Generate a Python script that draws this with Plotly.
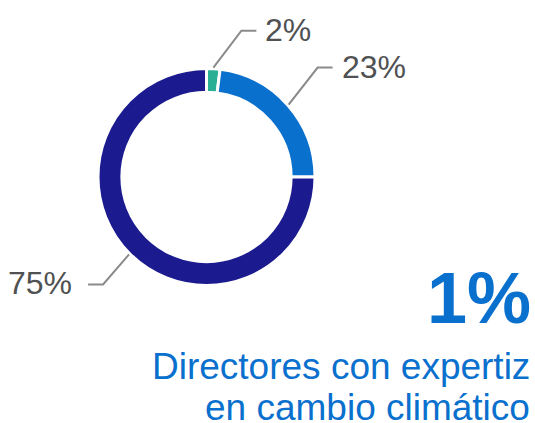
import math
import plotly.graph_objects as go

# ---- data ----
categories = ["Sí", "Parcial", "No"]
values = [2, 23, 75]
value_labels = ["2%", "23%", "75%"]
headline_value = "1%"
caption_lines = ["Directores con expertiz", "en cambio climático"]

# ---- style ----
W, H = 535, 423
colors = ["#2AAE94", "#0A70CE", "#1B1B8F"]
text_gray = "#4F5152"
line_gray = "#8A8A8A"
blue_text = "#0A70CE"
font_family = "Liberation Sans, Arial, sans-serif"

cx, cy, r_out = 206.5, 177.0, 108.5  # pixel geometry of the donut
hole = 0.78
legs = [(28, -37), (29, -37), (-26, 30)]  # diagonal leader leg (px)
h_leg = 15
text_gaps = [7, 7, 14]


def px(x):
    return x / W


def py(y):
    return 1 - y / H


fig = go.Figure(
    go.Pie(
        labels=categories,
        values=values,
        hole=hole,
        sort=False,
        direction="clockwise",
        rotation=0,
        marker=dict(colors=colors, line=dict(color="white", width=3)),
        textinfo="none",
        hoverinfo="label+percent",
        domain=dict(x=[px(cx - r_out), px(cx + r_out)],
                    y=[py(cy + r_out), py(cy - r_out)]),
        showlegend=False,
    )
)

shapes = []
annotations = []
total = sum(values)
cum = 0
for v, lab, (dx, dy), gap in zip(values, value_labels, legs, text_gaps):
    mid = (cum + v / 2) / total * 2 * math.pi
    cum += v
    sx = cx + (r_out + 1) * math.sin(mid)
    sy = cy - (r_out + 1) * math.cos(mid)
    ex, ey = sx + dx, sy + dy
    side = 1 if dx > 0 else -1
    hx = ex + side * h_leg
    path = f"M {px(sx)},{py(sy)} L {px(ex)},{py(ey)} L {px(hx)},{py(ey)}"
    shapes.append(dict(type="path", xref="paper", yref="paper", path=path,
                       line=dict(color=line_gray, width=2)))
    annotations.append(dict(
        x=px(hx + side * gap), y=py(ey - 1), xref="paper", yref="paper",
        text=lab, showarrow=False,
        xanchor="left" if side > 0 else "right", yanchor="middle",
        font=dict(family=font_family, size=32, color=text_gray),
    ))

annotations.append(dict(
    x=px(533), y=py(298), xref="paper", yref="paper",
    text=f"<b>{headline_value}</b>", showarrow=False,
    xanchor="right", yanchor="middle",
    font=dict(family=font_family, size=72, color=blue_text),
))
for i, line in enumerate(caption_lines):
    annotations.append(dict(
        x=px(532), y=py(366 + 41 * i), xref="paper", yref="paper",
        text=line, showarrow=False,
        xanchor="right", yanchor="middle",
        font=dict(family=font_family, size=37, color=blue_text),
    ))

fig.update_layout(
    width=W, height=H,
    margin=dict(l=0, r=0, t=0, b=0),
    paper_bgcolor="white", plot_bgcolor="white",
    shapes=shapes, annotations=annotations,
)

fig.write_html(
    "out.html",
    config={"displayModeBar": False},
    post_script="document.body.style.margin='0';document.body.style.overflow='hidden';",
)
